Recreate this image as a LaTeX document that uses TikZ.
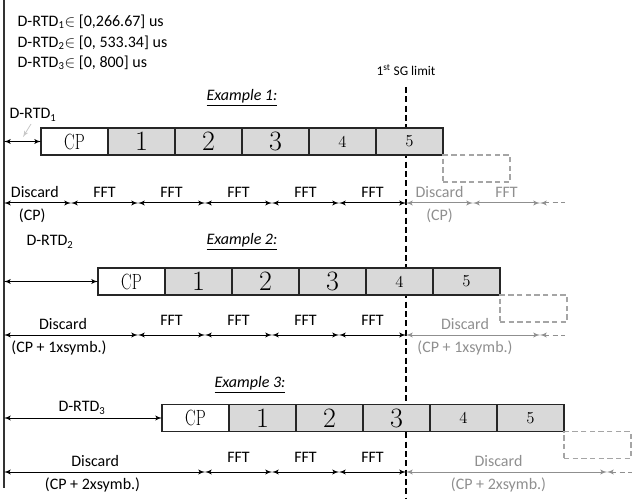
\documentclass[tikz,border=0pt]{standalone}
\usepackage{fontspec}
\setsansfont{Carlito}
\usetikzlibrary{arrows,positioning}
\definecolor{symbfill}{HTML}{D9D9D9}
\definecolor{ghost}{HTML}{8F8F8F}
\tikzset{every picture/.style={/utils/exec={\sffamily\fontsize{12}{14}\selectfont}}}
\tikzset{
    cellbox/.style={draw=black!85,line width=1pt,minimum width=50.25pt,minimum height=20.25pt,inner sep=0pt,outer sep=0pt,font=\rmfamily},
    cpbox/.style={cellbox,fill=white,font=\rmfamily\fontsize{16.5}{16.5}\selectfont},
    bigsymb/.style={cellbox,fill=symbfill,font=\rmfamily\fontsize{21}{21}\selectfont},
    smallsymb/.style={cellbox,fill=symbfill,font=\rmfamily\fontsize{12.5}{13}\selectfont},
    ghostbox/.style={cellbox,draw=ghost!80,dash pattern=on 4pt off 2.5pt},
    seg/.style={latex'-latex',line width=0.75pt},
    ghostseg/.style={seg,ghost},
    ghosttail/.style={latex'-,line width=0.75pt,ghost,dash pattern=on 4pt off 2.5pt},
    exlabel/.style={font=\fontsize{12}{14}\selectfont\itshape}
}
\newcommand{\cptext}{\scalebox{0.72}[1]{CP}}

\begin{document}
\begin{tikzpicture}[x=0.75pt,y=-0.75pt]
    \useasboundingbox (0,0) rectangle (632,499);
    % left time origin and 1st SG limit
    \coordinate (ltop) at (4,0);
    \coordinate (lbot) at (4,488);
    \draw [line width=1.2pt,black!80] (ltop) -- (lbot);
    \coordinate (sgtop) at (406,87);
    \coordinate (sgbot) at (406,499);
    \draw [line width=1pt,dash pattern=on 4.5pt off 2.5pt] (sgtop) -- (sgbot);
    \node (sg) at (406,70) {\fontsize{10}{12}\selectfont 1\textsuperscript{st} SG limit};
    % ranges
    \node [anchor=west] (range1) at (12,22) {D-RTD\textsubscript{1}$\in$ [0,266.67] us};
    \node [anchor=west] (range2) at (12,43) {D-RTD\textsubscript{2}$\in$ [0, 533.34] us};
    \node [anchor=west] (range3) at (12,63) {D-RTD\textsubscript{3}$\in$ [0, 800] us};
    % example 1
    \node [exlabel] (ex1) at (242,98) {\underline{Example 1:}};
    \node [cpbox,anchor=west] (a0) at (41,141.5) {\cptext};
    \node [bigsymb,right=0pt of a0] (a1) {1};
    \node [bigsymb,right=0pt of a1] (a2) {2};
    \node [bigsymb,right=0pt of a2] (a3) {3};
    \node [smallsymb,right=0pt of a3] (a4) {4};
    \node [smallsymb,right=0pt of a4] (a5) {5};
    \node [ghostbox,anchor=north west] (a6) at (a5.south east) {};
    \node (rtd1) at (33,115) {D-RTD\textsubscript{1}};
    \coordinate (l1) at (4,141.5);
    \draw [seg] (l1) -- (a0);
    \coordinate (hint1) at (31,124);
    \coordinate (hint2) at (23,137);
    \draw [-latex',black!22,line width=0.6pt] (hint1) -- (hint2);
    \foreach \x [count=\k from 0] in {4,71,138,205,272,339,406,473,540,565}
        \coordinate (u\k) at (\x,203);
    \draw [seg] (u0) -- node [above,xshift=-2pt] {Discard} node [below,xshift=-4pt] {(CP)} (u1);
    \foreach \a/\b in {u1/u2,u2/u3,u3/u4,u4/u5,u5/u6}
        \draw [seg] (\a) -- node [above] {FFT} (\b);
    \draw [ghostseg] (u6) -- node [above] {Discard} node [below] {(CP)} (u7);
    \draw [ghostseg] (u7) -- node [above] {FFT} (u8);
    \draw [ghosttail] (u8) -- (u9);
    % example 2
    \node [exlabel] (ex2) at (242,242) {\underline{Example 2:}};
    \node [cpbox,anchor=west] (b0) at (98,281.5) {\cptext};
    \node [bigsymb,right=0pt of b0] (b1) {1};
    \node [bigsymb,right=0pt of b1] (b2) {2};
    \node [bigsymb,right=0pt of b2] (b3) {3};
    \node [smallsymb,right=0pt of b3] (b4) {4};
    \node [smallsymb,right=0pt of b4] (b5) {5};
    \node [ghostbox,anchor=north west] (b6) at (b5.south east) {};
    \node (rtd2) at (50,242) {D-RTD\textsubscript{2}};
    \coordinate (l2) at (4,281.5);
    \draw [seg] (l2) -- (b0);
    \foreach \x [count=\k from 0] in {4,138,205,272,339,406,540,565}
        \coordinate (v\k) at (\x,335);
    \draw [seg] (v0) -- node [above,xshift=-6pt] {Discard} node [below,xshift=-9pt] {(CP + 1xsymb.)} (v1);
    \foreach \a/\b in {v1/v2,v2/v3,v3/v4,v4/v5}
        \draw [seg] (\a) -- node [above=3pt] {FFT} (\b);
    \draw [ghostseg] (v5) -- node [above,xshift=-6pt] {Discard} node [below,xshift=-6pt] {(CP + 1xsymb.)} (v6);
    \draw [ghosttail] (v6) -- (v7);
    % example 3
    \node [exlabel] (ex3) at (250,385) {\underline{Example 3:}};
    \node [cpbox,anchor=west] (c0) at (162,418) {\cptext};
    \node [bigsymb,right=0pt of c0] (c1) {1};
    \node [bigsymb,right=0pt of c1] (c2) {2};
    \node [bigsymb,right=0pt of c2] (c3) {3};
    \node [smallsymb,right=0pt of c3] (c4) {4};
    \node [smallsymb,right=0pt of c4] (c5) {5};
    \node [ghostbox,anchor=north west] (c6) at (c5.south east) {};
    \node (rtd3) at (82,408) {D-RTD\textsubscript{3}};
    \coordinate (l3) at (4,418);
    \draw [seg] (l3) -- (c0);
    \foreach \x [count=\k from 0] in {4,205,272,339,406,607,632}
        \coordinate (w\k) at (\x,472);
    \draw [seg] (w0) -- node [above,xshift=-7pt] {Discard} node [below,xshift=-9pt] {(CP + 2xsymb.)} (w1);
    \foreach \a/\b in {w1/w2,w2/w3,w3/w4}
        \draw [seg] (\a) -- node [above=3pt] {FFT} (\b);
    \draw [ghostseg] (w4) -- node [above,xshift=-6pt] {Discard} node [below,xshift=-6pt] {(CP + 2xsymb.)} (w5);
    \draw [ghosttail] (w5) -- (w6);
\end{tikzpicture}
\end{document}
